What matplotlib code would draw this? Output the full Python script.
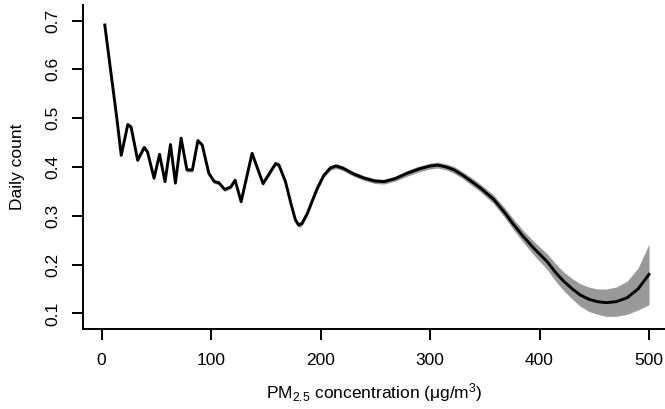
import matplotlib
matplotlib.use("Agg")
import matplotlib.pyplot as plt

plt.rcParams['font.family'] = ['Liberation Sans', 'DejaVu Sans']
plt.rcParams['mathtext.fontset'] = 'custom'
plt.rcParams['mathtext.rm'] = 'Liberation Sans'
plt.rcParams['mathtext.it'] = 'Liberation Sans'

# PM2.5 concentration (ug/m3)
pm = [3, 8.5, 14, 18, 24, 27, 33, 39, 42, 48, 53, 58, 63, 67.5, 72.7, 78, 83, 88, 92,
      98, 103, 107, 112.5, 118, 122, 127.5, 137.5, 147.5, 159, 162, 168, 173, 177, 180,
      183, 188, 192, 197, 203, 209, 214, 220, 230, 240, 250, 258, 268, 279, 290, 300,
      307, 315, 322, 330, 340, 346, 358, 368, 376, 385, 395, 407, 415, 422, 430, 437,
      445, 453, 461, 470, 480, 490, 500]
# estimated daily count
count = [0.691, 0.595, 0.500, 0.424, 0.487, 0.482, 0.414, 0.440, 0.431, 0.377, 0.426,
         0.370, 0.446, 0.367, 0.459, 0.394, 0.394, 0.454, 0.445, 0.387, 0.370, 0.368,
         0.354, 0.359, 0.373, 0.329, 0.428, 0.366, 0.407, 0.404, 0.370, 0.325, 0.292,
         0.281, 0.284, 0.305, 0.328, 0.356, 0.383, 0.398, 0.402, 0.398, 0.386, 0.377,
         0.371, 0.370, 0.376, 0.387, 0.396, 0.402, 0.404, 0.400, 0.394, 0.383, 0.367,
         0.357, 0.334, 0.307, 0.283, 0.258, 0.233, 0.206, 0.183, 0.166, 0.150, 0.138,
         0.129, 0.124, 0.122, 0.124, 0.132, 0.150, 0.180]
# half width of the confidence band
se = [0.006, 0.005, 0.005, 0.004, 0.004, 0.004, 0.004, 0.004, 0.004, 0.004, 0.004,
      0.004, 0.004, 0.004, 0.004, 0.004, 0.004, 0.004, 0.004, 0.004, 0.004, 0.004,
      0.004, 0.004, 0.004, 0.004, 0.004, 0.004, 0.004, 0.004, 0.004, 0.004, 0.005,
      0.005, 0.005, 0.005, 0.005, 0.005, 0.005, 0.005, 0.005, 0.005, 0.005, 0.005,
      0.005, 0.005, 0.005, 0.006, 0.006, 0.006, 0.006, 0.006, 0.007, 0.007, 0.008,
      0.008, 0.009, 0.010, 0.011, 0.012, 0.014, 0.016, 0.018, 0.019, 0.021, 0.023,
      0.025, 0.026, 0.028, 0.030, 0.034, 0.043, 0.062]

lower = [c - s for c, s in zip(count, se)]
upper = [c + s for c, s in zip(count, se)]

fig = plt.figure(figsize=(6.65, 4.09), dpi=100)
ax = fig.add_axes([83 / 665, 80 / 409, 582 / 665, 324 / 409])

ax.fill_between(pm, lower, upper, color='#999999', linewidth=0)
ax.plot(pm, count, color='black', linewidth=2.1)

ax.set_xlim(-16.9, 514.6)
ax.set_ylim(0.068, 0.732)
ax.set_xticks([0, 100, 200, 300, 400, 500])
ax.set_yticks([0.1, 0.2, 0.3, 0.4, 0.5, 0.6, 0.7])

ax.spines['top'].set_visible(False)
ax.spines['right'].set_visible(False)
ax.spines['left'].set_linewidth(1.4)
ax.spines['bottom'].set_linewidth(1.4)

ax.tick_params(axis='both', direction='out', length=8, width=1.4, labelsize=12.5,
               colors='black')
ax.tick_params(axis='x', pad=9)
ax.tick_params(axis='y', pad=8, labelrotation=90)
for lab in ax.get_yticklabels():
    lab.set_va('center')

ax.set_xlabel(r'PM$_{2.5}$ concentration (μg/m$^{3}$)', fontsize=12.5, labelpad=10)
ax.set_ylabel('Daily count', fontsize=12.5)
ax.yaxis.set_label_coords(-0.10, 0.5)

fig.savefig('out.png', dpi=100)
